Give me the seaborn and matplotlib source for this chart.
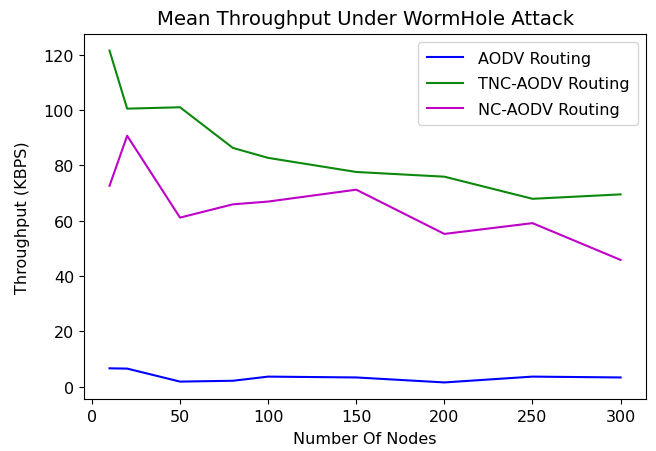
import matplotlib
matplotlib.use("Agg")
import matplotlib.pyplot as plt
import pandas as pd
import seaborn as sns

nodes = [10, 20, 50, 80, 100, 150, 200, 250, 300]
aodv = [6.6, 6.5, 1.8, 2.1, 3.6, 3.3, 1.5, 3.6, 3.3]
tnc_aodv = [121.5, 100.5, 101.0, 86.3, 82.7, 77.6, 75.9, 67.9, 69.5]
nc_aodv = [72.6, 90.7, 61.1, 65.9, 66.9, 71.2, 55.2, 59.1, 45.8]

series_names = ["AODV Routing", "TNC-AODV Routing", "NC-AODV Routing"]
series_colors = ["#0000ff", "#0c880c", "#bf00c8"]

frames = []
for name, vals in zip(series_names, [aodv, tnc_aodv, nc_aodv]):
    frames.append(pd.DataFrame({"nodes": nodes, "throughput": vals, "series": name}))
df = pd.concat(frames, ignore_index=True)

plt.rcParams["font.family"] = ["DejaVu Sans"]
plt.rcParams["font.size"] = 11.5

fig = plt.figure(figsize=(6.56, 4.52), dpi=100)
ax = fig.add_axes([0.128, 0.115, 0.857, 0.8076])

sns.lineplot(data=df, x="nodes", y="throughput", hue="series",
             palette=dict(zip(series_names, series_colors)),
             hue_order=series_names, linewidth=1.5, ax=ax)

ax.set_title("Mean Throughput Under WormHole Attack", fontsize=14.2, pad=7)
ax.set_xlabel("Number Of Nodes", labelpad=5)
ax.set_ylabel("Throughput (KBPS)", labelpad=10)
ax.set_xticks([0, 50, 100, 150, 200, 250, 300])
ax.set_yticks([0, 20, 40, 60, 80, 100, 120])
ax.legend(title=None, loc="upper right", labelspacing=0.65,
          handlelength=2.3, borderpad=0.55, handletextpad=0.9)

fig.savefig("out.png", dpi=100)
